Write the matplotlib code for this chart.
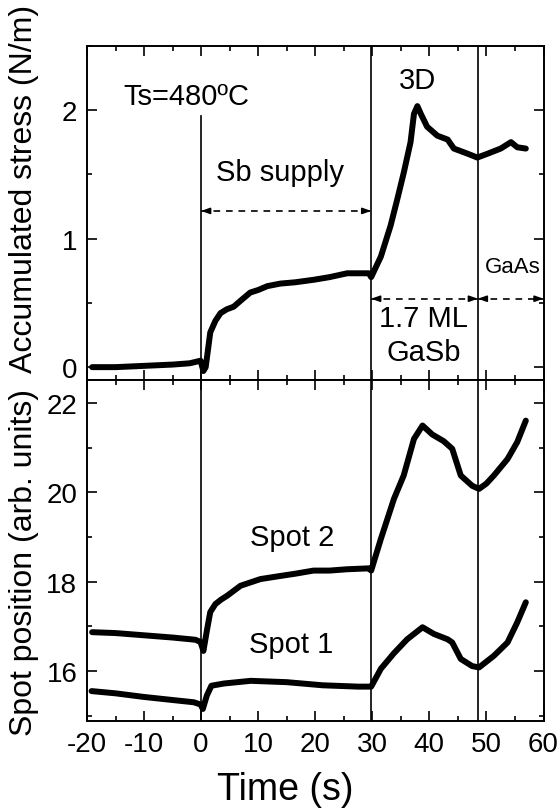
import matplotlib
matplotlib.use("Agg")
import matplotlib.pyplot as plt
from matplotlib.ticker import MultipleLocator

plt.rcParams['font.family'] = ['Liberation Sans', 'DejaVu Sans']

# ---- data ----
stress_t = [-19.1, -15, -10, -5, -2, -0.1, 0.4, 0.8, 1.6, 2.5, 3.4, 4.5, 5.7, 7, 8.6, 10,
            11.6, 13.9, 16.5, 19.8, 22.5, 25.6, 29.4, 29.8, 31.5, 33.2, 34.4, 35.5, 36.7,
            37.3, 37.9, 38.5, 39.6, 41.4, 43.2, 44.3, 45.5, 46.7, 48.4, 50.2, 52.5, 54.3,
            55.4, 56.9]
stress_v = [0.0, 0.0, 0.01, 0.02, 0.03, 0.05, -0.03, 0.0, 0.27, 0.36, 0.42, 0.45, 0.47, 0.52,
            0.58, 0.60, 0.63, 0.65, 0.66, 0.68, 0.70, 0.73, 0.73, 0.70, 0.86, 1.10, 1.31, 1.51,
            1.75, 1.97, 2.03, 1.97, 1.87, 1.80, 1.77, 1.70, 1.68, 1.66, 1.63, 1.66, 1.70, 1.75,
            1.71, 1.70]

spot2_t = [-19.1, -15, -10, -5, -1, -0.1, 0.4, 1.0, 1.6, 2.5, 3.5, 4.6, 6.9, 10.4, 13.9, 16.5,
           19.7, 22.5, 25.6, 29.4, 29.8, 31.5, 33.8, 35.5, 37.3, 38.8, 40.5, 42.5, 44.0, 45.5,
           47.5, 48.7, 50, 51.3, 53.7, 55.4, 56.9]
spot2_v = [16.87, 16.85, 16.8, 16.75, 16.7, 16.65, 16.45, 16.9, 17.32, 17.5, 17.6, 17.69, 17.91,
           18.06, 18.13, 18.18, 18.25, 18.25, 18.28, 18.3, 18.25, 18.96, 19.86, 20.38, 21.2,
           21.5, 21.3, 21.15, 20.98, 20.38, 20.15, 20.08, 20.2, 20.38, 20.75, 21.13, 21.61]

spot1_t = [-19.2, -15, -10.1, -5, -1.3, -0.1, 0.3, 1.0, 1.8, 4, 8.7, 15.0, 21.3, 27.5, 29.8,
           31.5, 33.8, 36.1, 38.8, 40.8, 43.2, 44.0, 45.5, 47.5, 48.7, 51.3, 53.7, 55.4, 56.9]
spot1_v = [15.55, 15.5, 15.42, 15.35, 15.3, 15.25, 15.15, 15.45, 15.67, 15.72, 15.78, 15.75,
           15.68, 15.65, 15.65, 16.05, 16.4, 16.71, 16.98, 16.83, 16.71, 16.64, 16.27, 16.11,
           16.08, 16.34, 16.64, 17.09, 17.54]

event_times = [0, 29.8, 48.5]
x_ticks = [-20, -10, 0, 10, 20, 30, 40, 50, 60]

fig = plt.figure(figsize=(5.59, 8.12), dpi=100)
L, R = 87 / 559, 543.5 / 559
y_top, y_mid, y_bot = 1 - 46.7 / 812, 1 - 381 / 812, 1 - 722 / 812
ax1 = fig.add_axes([L, y_mid, R - L, y_top - y_mid])
ax2 = fig.add_axes([L, y_bot, R - L, y_mid - y_bot], sharex=ax1)

trace_kw = dict(color='black', lw=4.3, solid_joinstyle='round', solid_capstyle='round')
ax1.plot(stress_t, stress_v, **trace_kw)
ax2.plot(spot2_t, spot2_v, **trace_kw)
ax2.plot(spot1_t, spot1_v, **trace_kw)

ax1.set_xlim(-20, 60)
ax1.set_ylim(-0.1, 2.5)
ax2.set_ylim(14.88, 22.52)

for ax in (ax1, ax2):
    ax.xaxis.set_major_locator(MultipleLocator(10))
    ax.xaxis.set_minor_locator(MultipleLocator(5))
    ax.tick_params(which='both', direction='in', top=True, right=True, width=1.2)
    ax.tick_params(which='major', length=7, labelsize=20, pad=7)
    ax.tick_params(which='minor', length=3.5)
    for s in ax.spines.values():
        s.set_linewidth(1.4)
ax1.yaxis.set_major_locator(MultipleLocator(1))
ax1.yaxis.set_minor_locator(MultipleLocator(0.5))
ax2.yaxis.set_major_locator(MultipleLocator(2))
ax2.yaxis.set_minor_locator(MultipleLocator(1))
ax1.tick_params(labelbottom=False)
ax2.set_xticks(x_ticks)
ax2.set_xticklabels([str(v) for v in x_ticks])

# vertical event lines
ax1.axvline(event_times[0], ymin=0, ymax=(1.95 + 0.1) / 2.6, color='black', lw=1.2)
for t in event_times[1:]:
    ax1.axvline(t, color='black', lw=1.2)
for t in event_times:
    ax2.axvline(t, color='black', lw=1.2)

def darrow(ax, x0, x1, y):
    ax.plot([x0, x1], [y, y], color='black', lw=1.2, ls=(0, (4, 3.5)))
    for a, b in ((x0 + 1.5, x0), (x1 - 1.5, x1)):
        ax.annotate('', xy=(b, y), xytext=(a, y),
                    arrowprops=dict(arrowstyle='-|>,head_length=0.5,head_width=0.18',
                                    color='black', lw=1.2, shrinkA=0, shrinkB=0))

darrow(ax1, event_times[0], event_times[1], 1.215)
darrow(ax1, event_times[1], event_times[2], 0.532)
darrow(ax1, event_times[2], 60, 0.532)

ax1.text(-13.6, 2.11, 'Ts=480ºC', fontsize=21, ha='left', va='center')
ax1.text(13.8, 1.52, 'Sb supply', fontsize=21, ha='center', va='center')
ax1.text(38.0, 2.23, '3D', fontsize=21, ha='center', va='center')
ax1.text(39.0, 0.38, '1.7 ML', fontsize=21, ha='center', va='center')
ax1.text(39.0, 0.12, 'GaSb', fontsize=21, ha='center', va='center')
ax1.text(54.6, 0.78, 'GaAs', fontsize=16, ha='center', va='center',
         family=['Liberation Sans Narrow', 'Liberation Sans'])
ax2.text(15.9, 19.0, 'Spot 2', fontsize=21, ha='center', va='center')
ax2.text(15.7, 16.6, 'Spot 1', fontsize=21, ha='center', va='center')

fig.text(24 / 559, 1 - 189 / 812, 'Accumulated stress (N/m)', rotation=90,
         fontsize=23, ha='center', va='center')
fig.text(24 / 559, 1 - 563 / 812, 'Spot position (arb. units)', rotation=90,
         fontsize=23, ha='center', va='center')
fig.text(285 / 559, 1 - 790 / 812, 'Time (s)', fontsize=27, ha='center', va='center')

fig.savefig('out.png', dpi=100)
